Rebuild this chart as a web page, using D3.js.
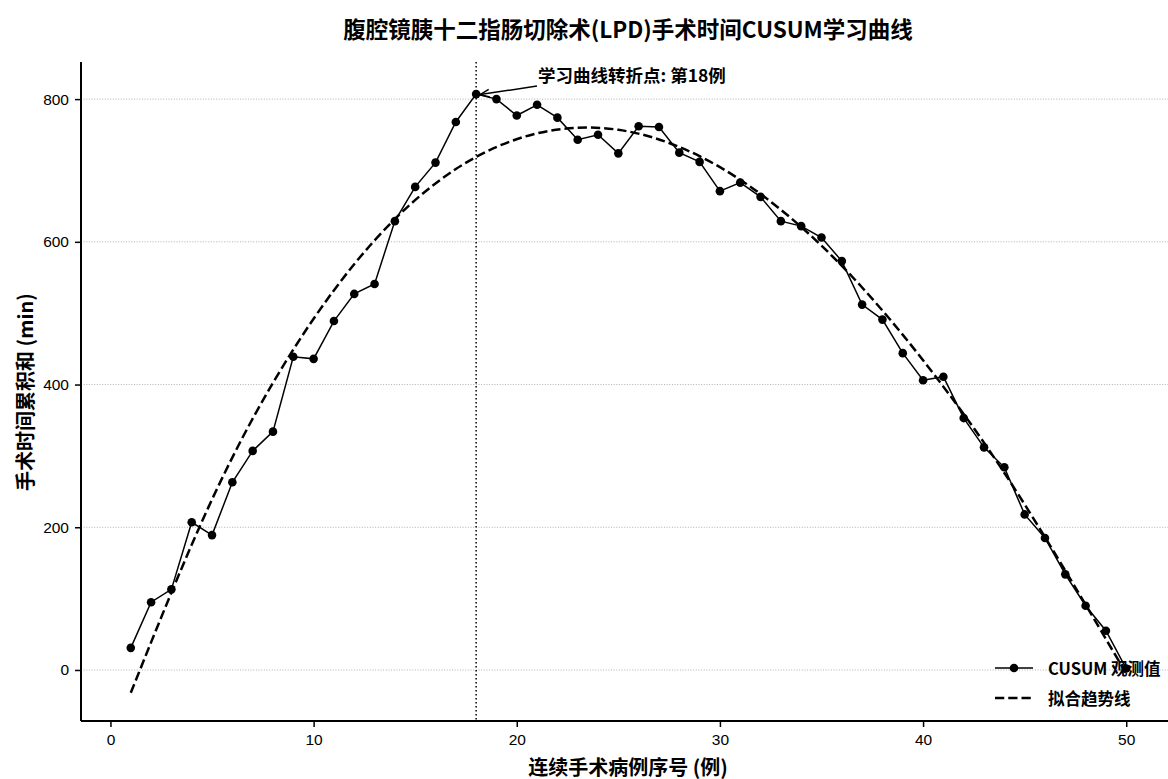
<!DOCTYPE html>
<html><head><meta charset="utf-8">
<script src="https://cdn.jsdelivr.net/npm/d3@7"></script>
<style>
body{margin:0;background:#fff}
text{font-family:"Noto Sans CJK SC","Noto Sans",sans-serif;font-weight:bold;fill:#000}
</style>
</head><body>
<svg id="c" width="1168" height="779"></svg>
<script>
const caseNo=[1,2,3,4,5,6,7,8,9,10,11,12,13,14,15,16,17,18,19,20,21,22,23,24,25,26,27,28,29,30,31,32,33,34,35,36,37,38,39,40,41,42,43,44,45,46,47,48,49,50];
const cusum=[31,95,113,207,189,263,307,334,439,436,489,527,541,629,677,711,768,807,800,777,792,774,743,750,724,762,761,725,712,671,683,663,629,622,606,573,512,491,444,406,411,353,312,284,218,185,134,90,55,2];
const trendCase=[1,5,9,13,17,21,25,29,33,37,41,45,50];
const trendValue=[-32,239,449,602,702,752,757,720,645,536,397,232,-5];
const xTicks=[0,10,20,30,40,50];
const yTicks=[0,200,400,600,800];
const turningCase=18;
const titleText="腹腔镜胰十二指肠切除术(LPD)手术时间CUSUM学习曲线";
const xLabel="连续手术病例序号 (例)";
const yLabel="手术时间累积和 (min)";
const annText="学习曲线转折点: 第18例";
const legendLabels=["CUSUM 观测值","拟合趋势线"];

const svg=d3.select("#c");
const L=81,R=1176,T=62,B=721;
const x=d3.scaleLinear().domain([-1.45,52.45]).range([L,R]);
const y=d3.scaleLinear().domain([-71.5,852]).range([B,T]);

// grid
svg.append("g").selectAll("line").data(yTicks).join("line")
  .attr("x1",L).attr("x2",1168).attr("y1",d=>y(d)).attr("y2",d=>y(d))
  .attr("stroke","#b0b0b0").attr("stroke-width",1).attr("stroke-dasharray","1,1.65");

// vertical turning line
svg.append("line").attr("x1",x(turningCase)).attr("x2",x(turningCase)).attr("y1",T).attr("y2",B)
  .attr("stroke","#000").attr("stroke-width",1.5).attr("stroke-dasharray","1.5,2.5");

// trend
const pts=trendCase.map((c,i)=>[c,trendValue[i]]);
svg.append("path").datum(pts)
  .attr("d",d3.line().x(d=>x(d[0])).y(d=>y(d[1])).curve(d3.curveNatural))
  .attr("fill","none").attr("stroke","#000").attr("stroke-width",2.5).attr("stroke-dasharray","9.25,4");

// observed
const obs=caseNo.map((c,i)=>[c,cusum[i]]);
svg.append("path").datum(obs)
  .attr("d",d3.line().x(d=>x(d[0])).y(d=>y(d[1])))
  .attr("fill","none").attr("stroke","#000").attr("stroke-width",1.5);
svg.append("g").selectAll("circle").data(obs).join("circle")
  .attr("cx",d=>x(d[0])).attr("cy",d=>y(d[1])).attr("r",4.3).attr("fill","#000");

// axes
const xa=svg.append("g").attr("transform",`translate(0,${B})`)
  .call(d3.axisBottom(x).tickValues(xTicks).tickSize(6).tickPadding(7).tickFormat(d3.format("d")));
const ya=svg.append("g").attr("transform",`translate(${L},0)`)
  .call(d3.axisLeft(y).tickValues(yTicks).tickSize(6).tickPadding(6).tickFormat(d3.format("d")));
[xa,ya].forEach(a=>{
  a.select(".domain").attr("stroke","#000").attr("stroke-width",2);
  a.selectAll(".tick line").attr("stroke","#000").attr("stroke-width",1.5);
  a.selectAll(".tick text").style("font-size","15.5px").style("font-family","'Liberation Sans','Noto Sans CJK SC',sans-serif").style("font-weight","normal").attr("fill","#000");
});
xa.select(".domain").attr("d",`M${L},0H1168`);
ya.select(".domain").attr("d",`M0,${T}V${B}`);

// labels
svg.append("text").attr("x",628).attr("y",28).attr("text-anchor","middle").attr("dominant-baseline","central")
  .style("font-size","22.5px").text(titleText);
svg.append("text").attr("x",628).attr("y",766).attr("text-anchor","middle").attr("dominant-baseline","central")
  .style("font-size","20px").text(xLabel);
svg.append("text").attr("transform","translate(24,392) rotate(-90)").attr("text-anchor","middle").attr("dominant-baseline","central")
  .style("font-size","20px").text(yLabel);

// annotation
const tx=537, ty=86;
const hx=x(turningCase)+4, hy=y(cusum[turningCase-1])+0.5;
svg.append("line").attr("x1",tx).attr("y1",ty).attr("x2",hx).attr("y2",hy).attr("stroke","#000").attr("stroke-width",1.5);
const ang=Math.atan2(ty-hy,tx-hx);
[-0.4,0.4].forEach(a=>{
  svg.append("line").attr("x1",hx).attr("y1",hy)
    .attr("x2",hx+10*Math.cos(ang+a)).attr("y2",hy+10*Math.sin(ang+a))
    .attr("stroke","#000").attr("stroke-width",1.5);
});
svg.append("text").attr("x",538).attr("y",74).attr("dominant-baseline","central")
  .style("font-size","17.5px").text(annText);

// legend
const lg=svg.append("g");
lg.append("line").attr("x1",995).attr("x2",1033).attr("y1",668).attr("y2",668).attr("stroke","#000").attr("stroke-width",1.5);
lg.append("circle").attr("cx",1014).attr("cy",668).attr("r",4.3).attr("fill","#000");
lg.append("line").attr("x1",995).attr("x2",1033).attr("y1",698).attr("y2",698).attr("stroke","#000").attr("stroke-width",2.5).attr("stroke-dasharray","9.25,4");
lg.selectAll("text").data(legendLabels).join("text")
  .attr("x",1048).attr("y",(d,i)=>668+i*30).attr("dominant-baseline","central")
  .style("font-size","16.5px").text(d=>d);
</script>
</body></html>
